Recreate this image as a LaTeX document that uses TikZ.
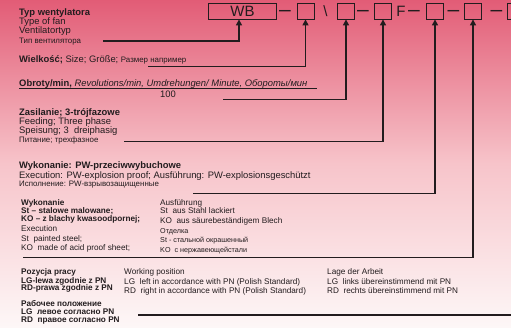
\documentclass[tikz,border=0pt]{standalone}
\usepackage{fontspec}
\setmainfont{Liberation Sans}
\usepackage{xcolor}
\usetikzlibrary{arrows.meta}

\definecolor{bgtop}{RGB}{226,92,118}
\definecolor{bgmid}{RGB}{247,196,202}
\definecolor{bgbot}{RGB}{253,247,247}
\definecolor{ink}{RGB}{34,28,30}

\begin{document}
\begin{tikzpicture}[x=1pt, y=-1pt, >={Triangle[length=6pt,width=6pt]},
  txt/.style={anchor=base west, inner sep=0pt, text=ink, font=\fontsize{9.4}{9.4}\selectfont},
  rus/.style={anchor=base west, inner sep=0pt, text=ink, font=\fontsize{7.9}{7.9}\selectfont},
  sml/.style={anchor=base west, inner sep=0pt, text=ink, font=\fontsize{8.2}{8.2}\selectfont},
  tiny/.style={anchor=base west, inner sep=0pt, text=ink, font=\fontsize{7.2}{7.2}\selectfont},
  codebox/.style={draw=ink, line width=0.9pt, minimum width=17pt, minimum height=15.5pt, inner sep=0pt},
  codechar/.style={inner sep=0pt, text=ink, font=\fontsize{15}{15}\selectfont},
  codedash/.style={inner sep=0pt, text=ink, font=\fontsize{21}{21}\selectfont},
  lead/.style={->, draw=ink, line width=1.2pt}]
  \useasboundingbox (0,0) rectangle (511,327);
  \clip (0,0) rectangle (511,327);
  % background
  \shade[top color=bgtop, bottom color=bgmid] (0,0) rectangle (511,163.5);
  \shade[top color=bgmid, bottom color=bgbot] (0,163.5) rectangle (511,327);

  % code line
  \node[codebox, minimum width=68pt] (wb) at (242,11.2) {};
  \node[codechar] (wbtxt) at (242.5,11.6) {WB};
  \node[codedash] (d1) at (285,13.3) {–};
  \node[codebox] (b2) at (305.5,11.2) {};
  \node[codechar] (bsl) at (325.5,11.4) {\textbackslash};
  \node[codebox] (b3) at (346,11.2) {};
  \node[codedash] (d2) at (363,13.3) {–};
  \node[codebox] (b4) at (383,11.2) {};
  \node[codechar] (f) at (401,11.6) {F};
  \node[codedash] (d3) at (414,13.3) {–};
  \node[codebox] (b5) at (435,11.2) {};
  \node[codedash] (d4) at (453.5,13.3) {–};
  \node[codebox] (b6) at (473,11.2) {};
  \node[codedash] (d5) at (496.5,13.3) {–};
  \node[codebox] (b7) at (516,11.2) {};

  % type
  \node[txt] (typpl) at (19,15) {\textbf{Typ wentylatora}};
  \node[txt] (typen) at (19,24) {Type of fan};
  \node[txt] (typde) at (19,33.3) {Ventilatortyp};
  \node[rus] (typru) at (19,43) {Тип вентилятора};

  % size
  \node[txt] (size) at (19,62) {\textbf{Wielkość;} Size; Größe; {\fontsize{7.9}{7.9}\selectfont Размер например}};

  % speed
  \node[txt] (obr) at (19,86.5) {\textbf{Obroty/min,} \textit{Revolutions/min, Umdrehungen/ Minute, Обороты/мин}};
  \draw[ink, line width=0.6pt] (19,88.6) -- (317,88.6);
  \node[txt, anchor=base] (obrnum) at (168,97.7) {100};

  % feeding
  \node[txt] (zaspl) at (19,115) {\textbf{Zasilanie; 3-trójfazowe}};
  \node[txt] (zasen) at (19,124) {Feeding; Three phase};
  \node[txt] (zasde) at (19,133.3) {Speisung; 3\ \ dreiphasig};
  \node[rus] (zasru) at (19,142.5) {Питание; трехфазное};

  % execution
  \node[txt] (wykpl) at (19,168.5) {\textbf{Wykonanie: PW-przeciwwybuchowe}};
  \node[txt] (wyken) at (19,178) {Execution: PW-explosion proof; Ausführung: PW-explosionsgeschützt};
  \node[rus] (wykru) at (19,186) {Исполнение: PW-взрывозащищенные};

  % material
  \node[sml] (matpl) at (21,205) {\textbf{Wykonanie}};
  \node[sml] (matst) at (21,213.6) {\textbf{St – stalowe malowane;}};
  \node[sml] (matko) at (21,221.6) {\textbf{KO – z blachy kwasoodpornej;}};
  \node[sml] (maten) at (21,231.6) {Execution};
  \node[sml] (matsten) at (21,241) {St\ \ painted steel;};
  \node[sml] (matkoen) at (21,250.2) {KO\ \ made of acid proof sheet;};
  \node[sml] (matde) at (160,205) {Ausführung};
  \node[sml] (matstde) at (160,213.6) {St\ \ aus Stahl lackiert};
  \node[sml] (matkode) at (160,223) {KO\ \ aus säurebeständigem Blech};
  \node[tiny] (matru) at (160,233) {Отделка};
  \node[tiny] (matstru) at (160,242.8) {St - стальной окрашенный};
  \node[tiny] (matkoru) at (160,252) {KO\ \ с нержавеющейстали};

  % working position
  \node[sml] (pospl) at (21,274.6) {\textbf{Pozycja pracy}};
  \node[sml] (poslgpl) at (21,283) {\textbf{LG-lewa zgodnie z PN}};
  \node[sml] (posrdpl) at (21,290.5) {\textbf{RD-prawa zgodnie z PN}};
  \node[sml] (posru) at (21,306.3) {\textbf{Рабочее положение}};
  \node[sml] (poslgru) at (21,314.3) {\textbf{LG\ \ левое согласно PN}};
  \node[sml] (posrdru) at (21,322.3) {\textbf{RD\ \ правое согласно PN}};
  \node[sml] (posen) at (124,274.6) {Working position};
  \node[sml] (poslgen) at (124,284) {LG\ \ left in accordance with PN (Polish Standard)};
  \node[sml] (posrden) at (124,293.2) {RD\ \ right in accordance with PN (Polish Standard)};
  \node[sml] (posde) at (327,274.6) {Lage der Arbeit};
  \node[sml] (poslgde) at (327,284) {LG\ \ links übereinstimmend mit PN};
  \node[sml] (posrdde) at (327,293.2) {RD\ \ rechts übereinstimmend mit PN};

  % leaders
  \coordinate (l1) at (103,41);
  \coordinate (l2) at (148,66.7);
  \coordinate (l3) at (223,99.3);
  \coordinate (l4) at (124,141.7);
  \coordinate (l5) at (193,193.3);
  \coordinate (l6) at (23,257.7);
  \coordinate (l7) at (138,315);
  \draw[lead] (l1) -| ([xshift=-3pt]wb.south);
  \draw[lead] (l2) -| (b2.south);
  \draw[lead] (l3) -| (b3.south);
  \draw[lead] (l4) -| (b4.south);
  \draw[lead] (l5) -| (b5.south);
  \draw[lead] (l6) -| (b6.south);
  \draw[lead] (l7) -| (b7.south);
\end{tikzpicture}
\end{document}
